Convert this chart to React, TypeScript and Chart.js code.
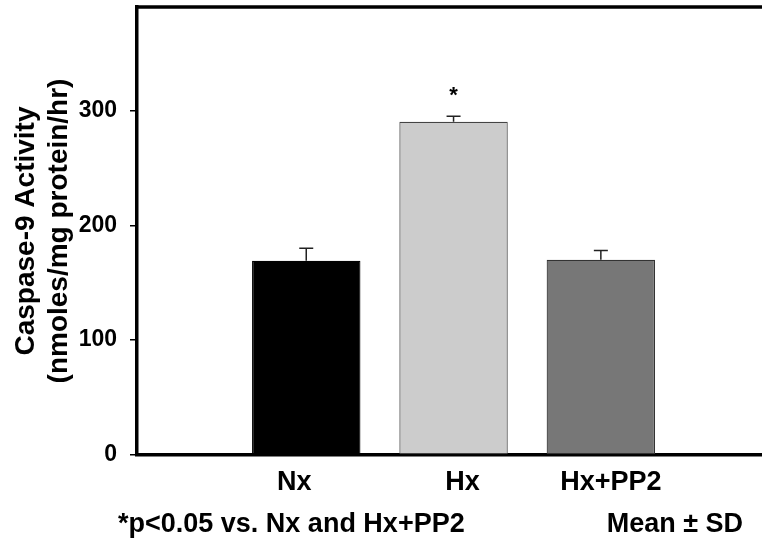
import React, { useEffect, useRef } from "react";
import { Chart, registerables } from "chart.js";

Chart.register(...registerables);

const categories = ["Nx", "Hx", "Hx+PP2"];
const means = [169, 290, 170];
const sds = [11, 5, 8];
const significant = [false, true, false];
const barColors = ["#000000", "#cccccc", "#777777"];
const barBorders = ["#000000", "#444444", "#333333"];
const yTicks = [0, 100, 200, 300];
const yMin = 0;
const yMax = 390;
const yTitle = ["Caspase-9 Activity", "(nmoles/mg protein/hr)"];
const footLeft = "*p<0.05 vs. Nx and Hx+PP2";
const footRight = "Mean \u00b1 SD";

// style: horizontal pixel nudge of each category label relative to its bar
const LABEL_NUDGE_PX = [-12, 9, 10];
const X_MIN = -1.149;
const X_MAX = 3.094;
const Y_AXIS_WIDTH = 137;
const CANVAS_W = 762;
const CANVAS_H = 542;

const FONT = "'Liberation Sans', Arial, Helvetica, sans-serif";

const annotate = {
  id: "annotate",
  afterDatasetsDraw(chart: any) {
    const { ctx } = chart;
    const x = chart.scales.x;
    const y = chart.scales.y;
    ctx.save();
    ctx.strokeStyle = "#222222";
    ctx.lineWidth = 1.5;
    means.forEach((m, i) => {
      const px = x.getPixelForValue(i);
      const base = y.getPixelForValue(m);
      const top = y.getPixelForValue(m + sds[i]);
      ctx.beginPath();
      ctx.moveTo(px, base);
      ctx.lineTo(px, top);
      ctx.moveTo(px - 7, top);
      ctx.lineTo(px + 7, top);
      ctx.stroke();
      if (significant[i]) {
        ctx.fillStyle = "#000";
        ctx.font = `bold 22px ${FONT}`;
        ctx.textAlign = "center";
        ctx.textBaseline = "alphabetic";
        ctx.fillText("*", px, top - 14);
      }
    });
    ctx.restore();
  },
  afterDraw(chart: any) {
    const { ctx, chartArea } = chart;
    ctx.save();
    ctx.strokeStyle = "#000";
    ctx.lineWidth = 3.5;
    ctx.beginPath();
    ctx.moveTo(chartArea.left - 1.75, chartArea.top);
    ctx.lineTo(chartArea.right, chartArea.top);
    ctx.stroke();
    ctx.fillStyle = "#000";
    ctx.font = `bold 27px ${FONT}`;
    ctx.textBaseline = "alphabetic";
    ctx.textAlign = "left";
    ctx.fillText(footLeft, 118, 532);
    ctx.textAlign = "right";
    ctx.fillText(footRight, 743, 532);
    ctx.restore();
  },
};

export default function App() {
  const ref = useRef<HTMLCanvasElement | null>(null);
  useEffect(() => {
    document.body.style.margin = "0";
    const canvas = ref.current;
    if (!canvas) return;
    Chart.defaults.font.family = FONT;
    const pxPerUnit = (CANVAS_W - Y_AXIS_WIDTH) / (X_MAX - X_MIN);
    const chart = new Chart(canvas, {
      type: "bar",
      data: {
        datasets: [
          {
            data: means.map((m, i) => ({ x: i, y: m })),
            backgroundColor: barColors,
            borderColor: barBorders,
            borderWidth: 1.2,
            borderSkipped: false,
            barPercentage: 0.736,
            categoryPercentage: 1,
          },
        ],
      },
      options: {
        responsive: false,
        animation: false,
        layout: { padding: { top: 7, left: 0, right: 0, bottom: 0 } },
        plugins: {
          legend: { display: false },
          tooltip: { enabled: false },
        },
        scales: {
          x: {
            type: "linear",
            min: X_MIN,
            max: X_MAX,
            offset: false,
            z: 1,
            afterBuildTicks: (s: any) => {
              s.ticks = categories.map((_, i) => ({
                value: i + LABEL_NUDGE_PX[i] / pxPerUnit,
              }));
            },
            afterFit: (s: any) => {
              s.height = 87;
              s.paddingLeft = 0;
              s.paddingRight = 0;
            },
            ticks: {
              autoSkip: false,
              maxRotation: 0,
              color: "#000",
              padding: 11,
              font: { size: 27, weight: "bold" },
              callback: (_v: any, index: number) => categories[index] ?? "",
            },
            grid: { display: false, drawTicks: false },
            border: { display: true, color: "#000", width: 3.5 },
          },
          y: {
            min: yMin,
            max: yMax,
            z: 1,
            afterBuildTicks: (s: any) => {
              s.ticks = yTicks.map((v) => ({ value: v }));
            },
            afterFit: (s: any) => {
              s.width = Y_AXIS_WIDTH;
              s.paddingTop = 0;
              s.paddingBottom = 0;
            },
            ticks: {
              autoSkip: false,
              color: "#000",
              padding: 13,
              font: { size: 23, weight: "bold" },
              callback: (v: any) => String(v),
            },
            grid: {
              display: true,
              drawOnChartArea: false,
              drawTicks: true,
              tickLength: 7,
              color: "#000",
              lineWidth: 1.5,
            },
            border: { display: true, color: "#000", width: 3.5 },
            title: {
              display: true,
              text: yTitle,
              color: "#000",
              font: { size: 28, weight: "bold", lineHeight: 1.18 },
              padding: { top: 10, bottom: 0 },
            },
          },
        },
      },
      plugins: [annotate],
    } as any);
    return () => chart.destroy();
  }, []);
  return (
    <canvas
      ref={ref}
      width={CANVAS_W}
      height={CANVAS_H}
      style={{ display: "block", width: CANVAS_W, height: CANVAS_H }}
    />
  );
}
